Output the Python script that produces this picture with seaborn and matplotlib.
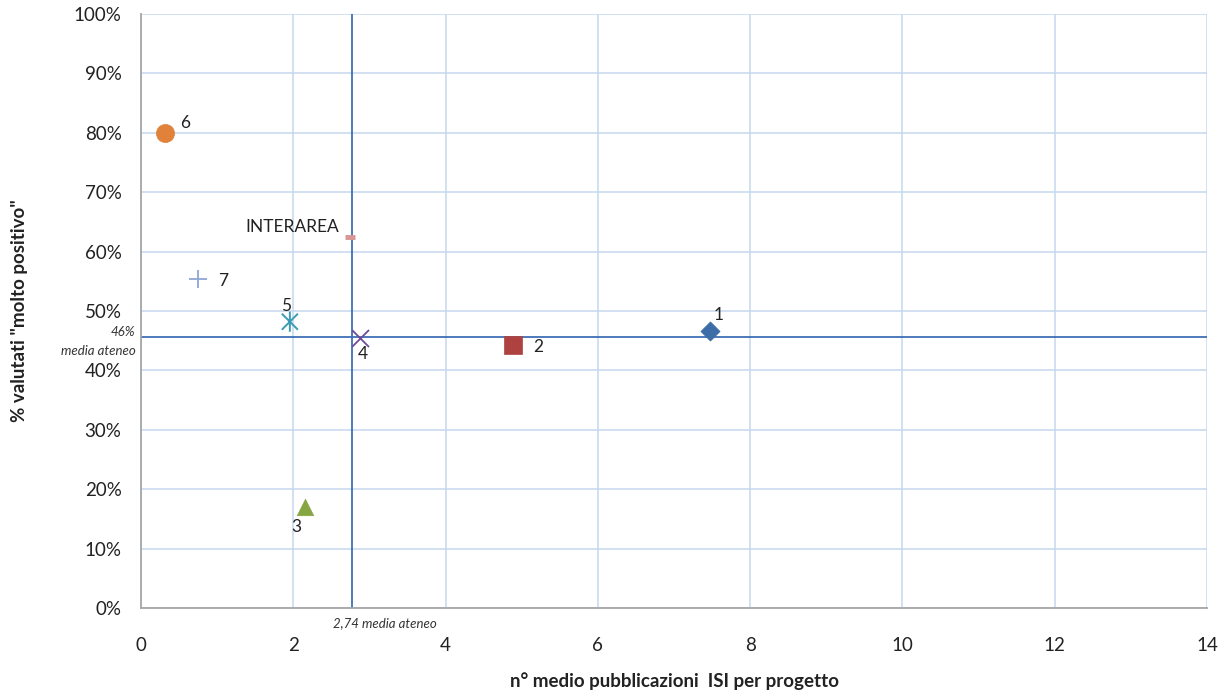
import matplotlib
matplotlib.use("Agg")
import matplotlib.pyplot as plt
from matplotlib.path import Path
import seaborn as sns
import pandas as pd
import warnings
warnings.filterwarnings("ignore")

labels = ["1", "2", "3", "4", "5", "6", "7", "INTERAREA"]
pub_isi = [7.47, 4.89, 2.15, 2.87, 1.955, 0.32, 0.75, 2.75]
pct_molto_pos = [46.6, 44.3, 17.0, 45.4, 48.2, 79.9, 55.4, 62.4]
media_pub = 2.77
media_pct = 45.6
x_ticks = [0, 2, 4, 6, 8, 10, 12, 14]
y_ticks = [0, 10, 20, 30, 40, 50, 60, 70, 80, 90, 100]

# Excel-style asterisk: X plus vertical bar
star_path = Path(
    [(-1, -1), (1, 1), (-1, 1), (1, -1), (0, -1.25), (0, 1.25)],
    [Path.MOVETO, Path.LINETO, Path.MOVETO, Path.LINETO, Path.MOVETO, Path.LINETO],
)

colors = ["#3C6DA6", "#AE4240", "#86A543", "#6E4D95", "#3A9CB3", "#E0823A", "#8FA7D6", "#D99694"]
markers = ["D", "s", "^", "x", star_path, "o", "+", "_"]
sizes = [95, 150, 140, 150, 210, 170, 150, 60]
kind = ["fill", "fill", "fill", "line", "path", "fill", "line", "line"]
# label offsets in pixels (dx right, dy down)
offsets = [(9, -16), (25, 2), (-8, 20), (3, 16), (-4, -16), (20, -10), (25, 2), (-11, -10)]
ha_list = ["center", "center", "center", "center", "center", "center", "center", "right"]

df = pd.DataFrame({"label": labels, "x": pub_isi, "y": pct_molto_pos})

sns.set_theme(style="white")
plt.rcParams["font.family"] = ["Lato", "DejaVu Sans"]

fig = plt.figure(figsize=(12.27, 6.98), dpi=100)
ax = fig.add_axes([141 / 1227, 1 - 608 / 698, (1207 - 141) / 1227, (608 - 14) / 698])

ax.set_xlim(0, 14)
ax.set_ylim(0, 100)
ax.set_xticks(x_ticks)
ax.set_yticks(y_ticks)
ax.set_xticklabels([str(t) for t in x_ticks], fontsize=13.5, color="#222222")
ax.set_yticklabels([f"{t}%" for t in y_ticks], fontsize=13.5, color="#222222")
ax.tick_params(axis="x", length=0, pad=21)
ax.tick_params(axis="y", length=0, pad=14)
ax.grid(True, color="#C5D7EE", linewidth=1.1)
ax.set_axisbelow(True)
for side in ["top", "right"]:
    ax.spines[side].set_visible(False)
ax.spines["left"].set_color("#A6A6A6")
ax.spines["bottom"].set_color("#A6A6A6")
ax.spines["left"].set_linewidth(1.3)
ax.spines["bottom"].set_linewidth(1.3)

ax.axvline(media_pub, color="#3F6FB5", linewidth=1.3, zorder=2)
ax.axhline(media_pct, color="#3F6FB5", linewidth=1.3, zorder=2)

for i, row in df.iterrows():
    kw = dict(x=[row["x"]], y=[row["y"]], marker=markers[i], s=sizes[i], ax=ax, zorder=3, legend=False)
    if kind[i] == "fill":
        sns.scatterplot(color=colors[i], edgecolor=colors[i], linewidth=0.5, **kw)
    elif kind[i] == "path":
        sns.scatterplot(color="none", edgecolor=colors[i], linewidth=1.4, **kw)
    else:
        lw = 3.5 if markers[i] == "_" else 1.3
        sns.scatterplot(color=colors[i], linewidth=lw, **kw)
    dx, dy = offsets[i]
    ax.annotate(row["label"], xy=(row["x"], row["y"]), xytext=(dx * 0.72, -dy * 0.72),
                textcoords="offset points", ha=ha_list[i], va="center",
                fontsize=12.5, color="#222222", zorder=4)

# mean annotations
ax.annotate("46%", xy=(0, media_pct), xytext=(-4, 4), textcoords="offset points",
            ha="right", va="center", fontsize=9.5, style="italic", color="#333333",
            annotation_clip=False)
ax.annotate("media ateneo", xy=(0, media_pct), xytext=(-4, -10), textcoords="offset points",
            ha="right", va="center", fontsize=9.5, style="italic", color="#333333",
            annotation_clip=False)
ax.annotate("2,74 media ateneo", xy=(media_pub, 0), xytext=(24, -11), textcoords="offset points",
            ha="center", va="center", fontsize=9.5, style="italic", color="#333333",
            annotation_clip=False)

ax.set_xlabel("n° medio pubblicazioni  ISI per progetto", fontsize=13.5, fontweight="bold",
              color="#222222", labelpad=13)
ax.set_ylabel('% valutati "molto positivo"', fontsize=13.5, fontweight="bold",
              color="#222222", labelpad=33)

fig.savefig("out.png", dpi=100)
